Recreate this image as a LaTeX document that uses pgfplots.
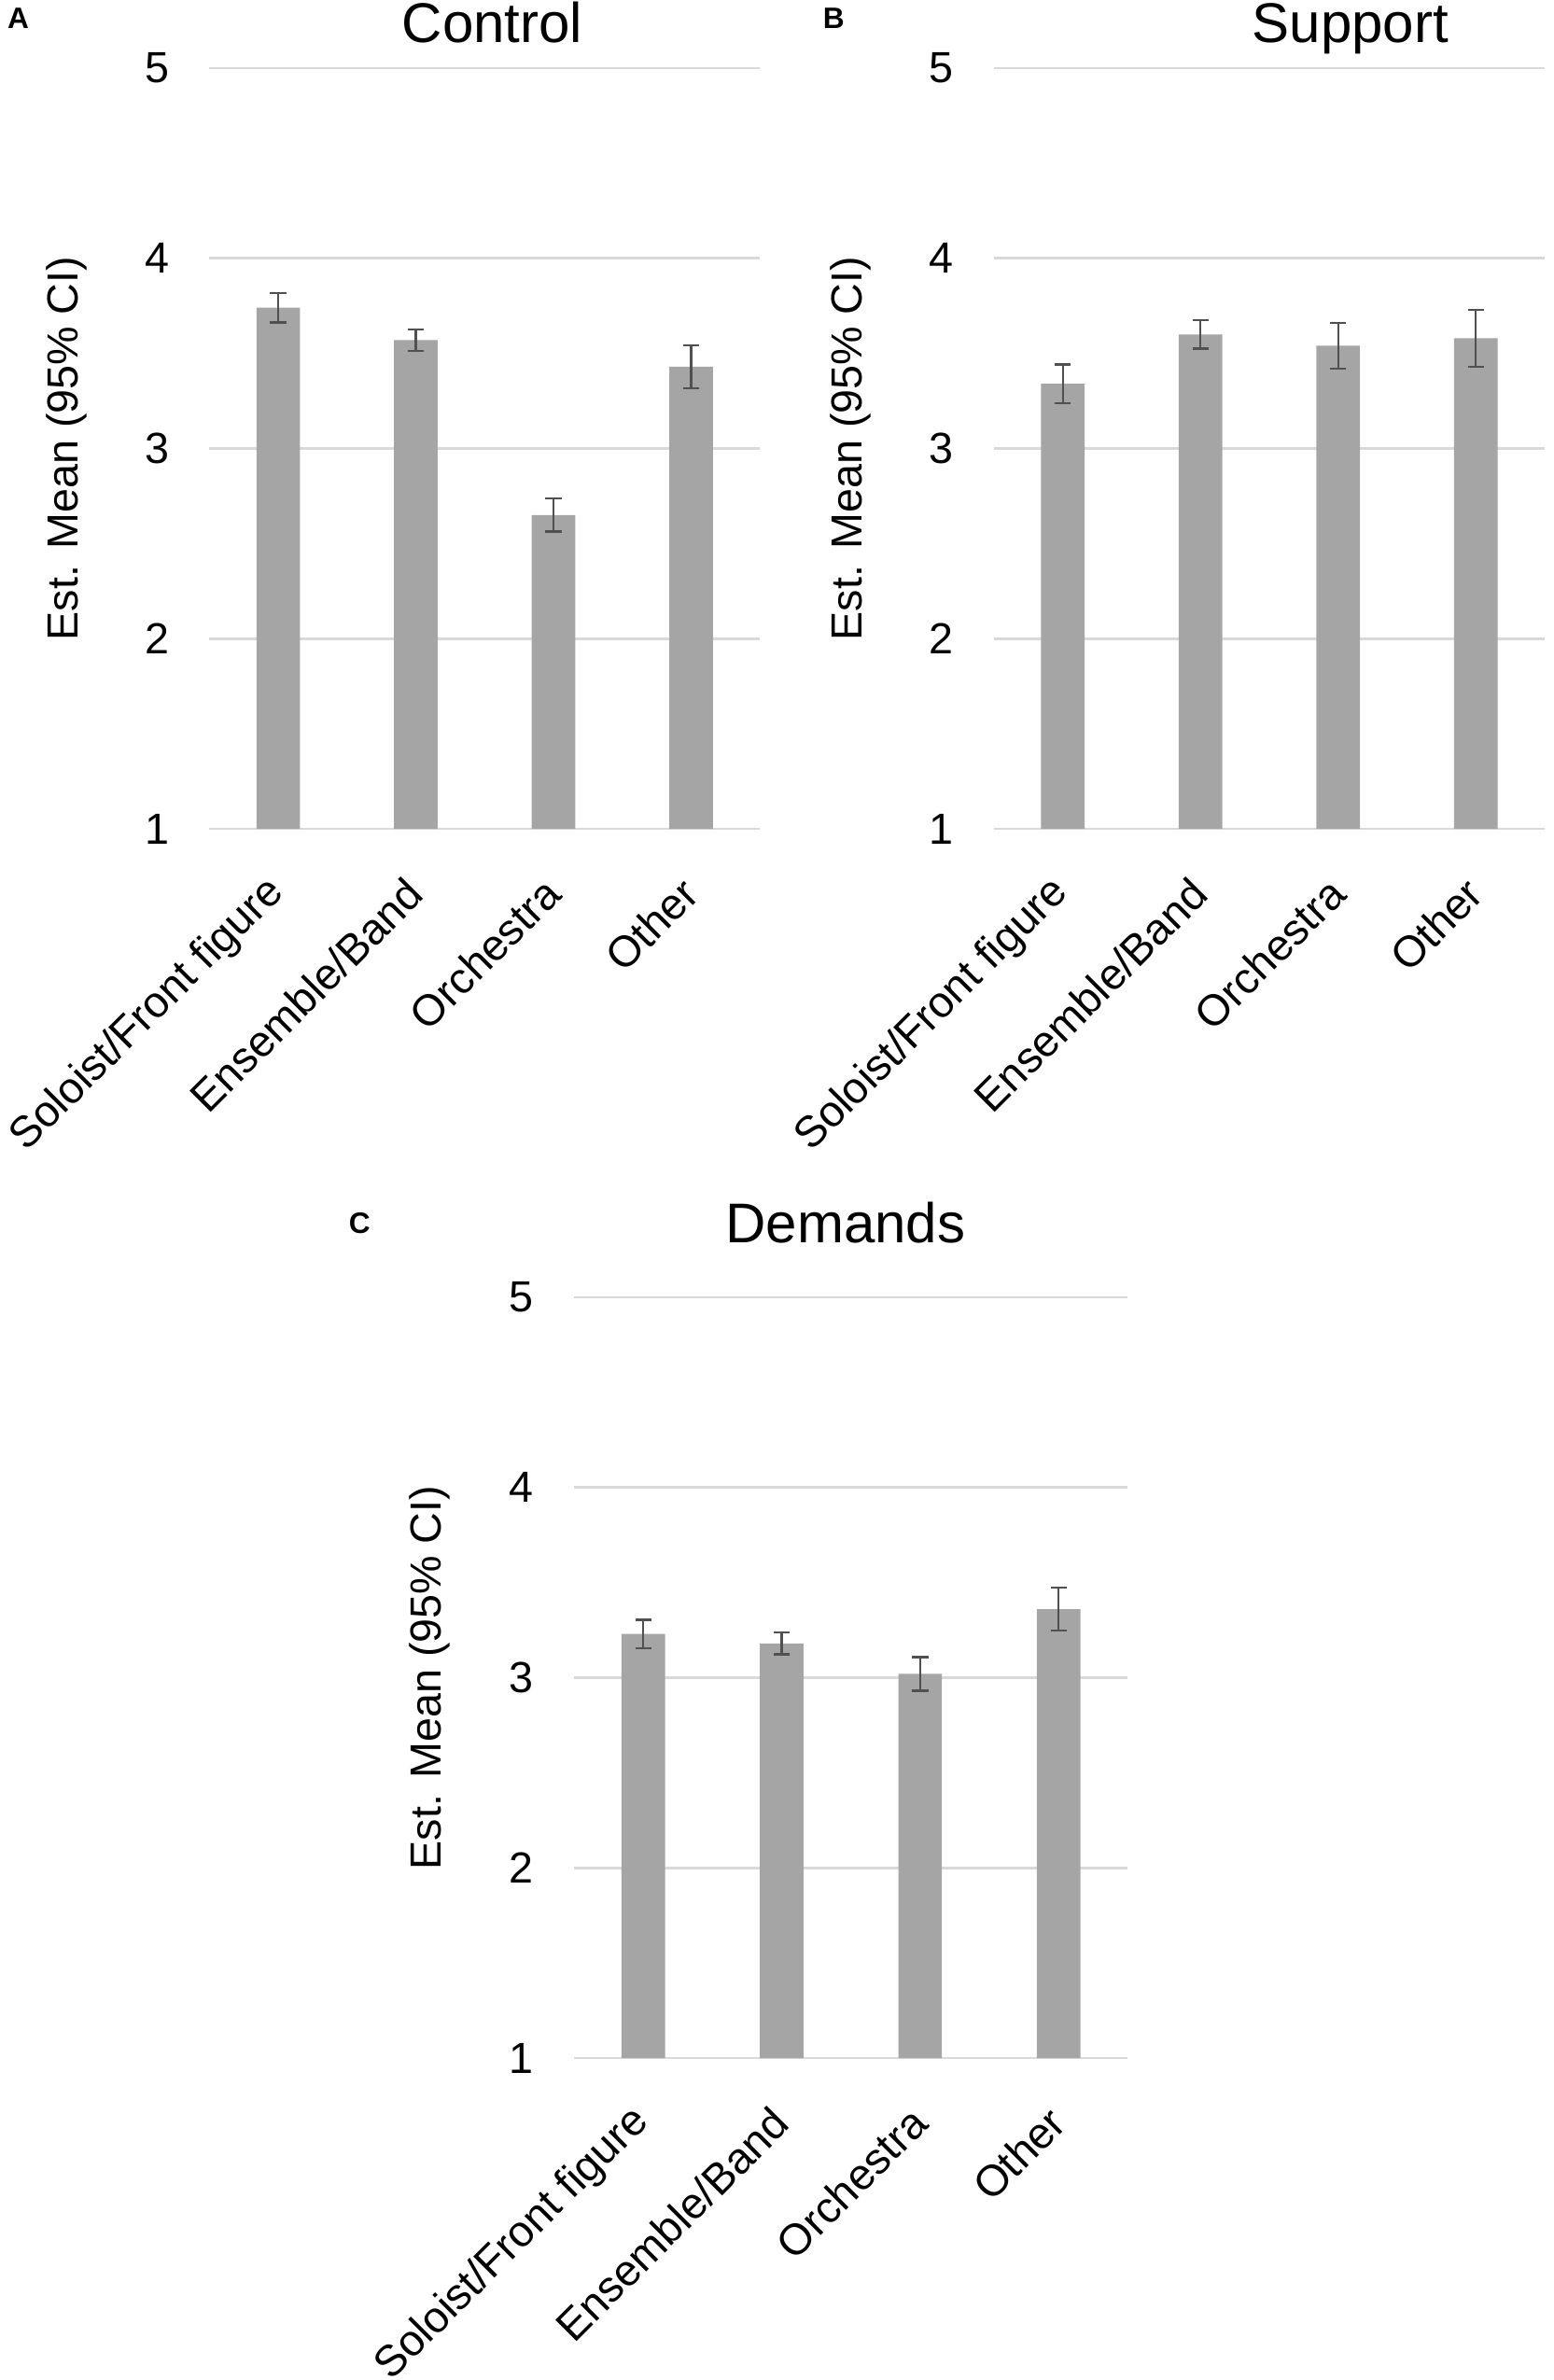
\documentclass[border=0pt]{standalone}
\usepackage{fontspec}
\setmainfont{Liberation Sans}
\usepackage{pgfplots}
\pgfplotsset{compat=1.18}
\definecolor{barc}{HTML}{A5A5A5}
\definecolor{gridc}{HTML}{D9D9D9}
\definecolor{errc}{HTML}{505050}
\pgfplotsset{
  panel/.style={
    scale only axis,
    width=177pt, height=244.5pt,
    xmin=-0.5, xmax=3.5, ymin=1, ymax=5,
    ytick={1,2,3,4,5}, yticklabels={1,2,3,4,5},
    xtick={0,1,2,3},
    xticklabels={Soloist/Front figure,Ensemble/Band,Orchestra,Other},
    /pgf/number format/assume math mode=true,
    axis line style={draw=none},
    major tick length=0pt,
    ymajorgrids, grid style={gridc, line width=0.8pt},
    yticklabel style={font=\fontsize{14}{16}\selectfont, anchor=east, inner sep=0pt, xshift=-12.8pt},
    xticklabel style={font=\fontsize{14}{16}\selectfont, inner sep=0pt, xshift=-0.2pt, yshift=-18.3pt, rotate=45, anchor=east},
    ylabel={Est. Mean (95\% CI)},
    ylabel style={font=\fontsize{14}{16}\selectfont, at={(axis description cs:-0.26,0.5)}, anchor=center},
    title style={font=\fontsize{18}{20}\selectfont, anchor=base},
    clip=false,
  },
  bars/.style={ybar, bar width=14pt, fill=barc, draw=none,
    error bars/.cd, y dir=both, y explicit,
    error bar style={errc, line width=0.7pt},
    error mark options={errc, rotate=90, mark size=2.6pt, line width=0.7pt}},
}
\begin{document}
\begin{tikzpicture}
\useasboundingbox (0,0) rectangle (499.5pt,-765pt);
% Panel A
\begin{axis}[panel, at={(67.3pt,-266.4pt)}, anchor=south west,
  title={Control}, title style={at={(axis description cs:0.514,1)}, yshift=2.2pt}]
\addplot[bars] coordinates {
  (0,3.74) +- (0,0.077)
  (1,3.57) +- (0,0.056)
  (2,2.65) +- (0,0.087)
  (3,3.43) +- (0,0.112)
};
\end{axis}
\node[font=\bfseries\fontsize{9.5}{11}\selectfont] at (5.9pt,-5.9pt) {A};
% Panel B
\begin{axis}[panel, at={(319.5pt,-266.4pt)}, anchor=south west,
  title={Support}, title style={at={(axis description cs:0.647,1)}, yshift=2.2pt}]
\addplot[bars] coordinates {
  (0,3.34) +- (0,0.101)
  (1,3.60) +- (0,0.074)
  (2,3.54) +- (0,0.120)
  (3,3.58) +- (0,0.150)
};
\end{axis}
\node[font=\bfseries\fontsize{9.5}{11}\selectfont] at (268pt,-5.9pt) {B};
% Panel C
\begin{axis}[panel, at={(184.5pt,-661.5pt)}, width=178pt, anchor=south west,
  title={Demands}, title style={at={(axis description cs:0.49,1)}, yshift=11.6pt}]
\addplot[bars] coordinates {
  (0,3.23) +- (0,0.075)
  (1,3.18) +- (0,0.057)
  (2,3.02) +- (0,0.088)
  (3,3.36) +- (0,0.113)
};
\end{axis}
\node[font=\bfseries\fontsize{9.5}{11}\selectfont] at (115.6pt,-393.2pt) {C};
\end{tikzpicture}
\end{document}
